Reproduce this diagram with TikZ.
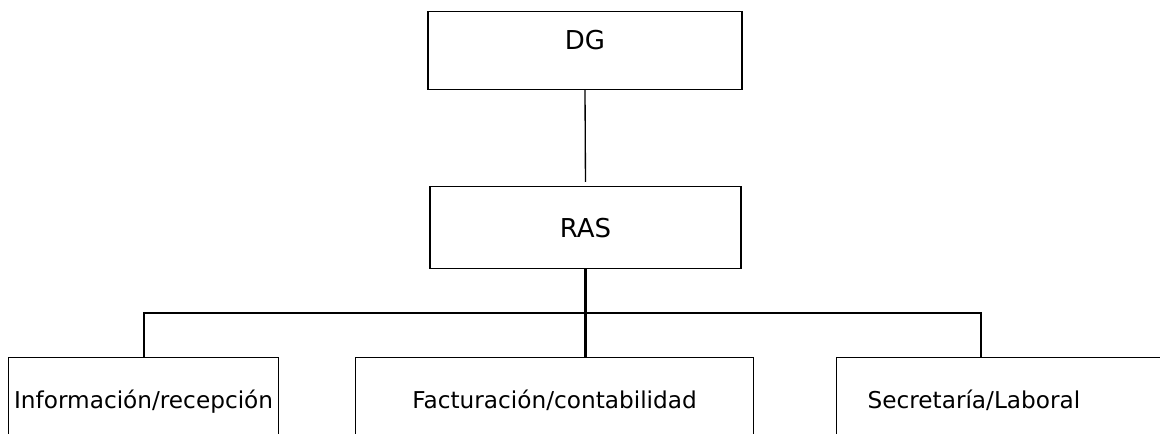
\documentclass[tikz,border=0pt]{standalone}
\usepackage{fontspec}
\setmainfont{DejaVu Sans}
\usetikzlibrary{calc}

\begin{document}
\begin{tikzpicture}[x=0.75pt,y=-0.75pt,line width=0.9pt,
  top node/.style={draw,rectangle,inner sep=0pt,font=\fontsize{19.5}{22}\selectfont},
  unit node/.style={draw,rectangle,inner sep=0pt,anchor=north west,text height=38.25pt,text depth=45pt,font=\fontsize{17.4}{20}\selectfont},
  link/.style={line width=1.5pt}]
  \useasboundingbox (0,0) rectangle (1160,434);
  \clip (0,0) rectangle (1160,434);

  \node[top node,anchor=north,minimum width=235.5pt,text height=28.5pt,text depth=30pt] (dg) at (585,11) {DG};
  \node[top node,anchor=north,minimum width=233.25pt,text height=38.25pt,text depth=23.25pt] (ras) at (585.5,186) {RAS};
  \node[unit node,minimum width=202.5pt] (info) at (8,357) {Información/recepción};
  \node[unit node,minimum width=298.5pt] (fact) at (355,357) {Facturación/contabilidad};
  \node[unit node,text width=300pt,align=left,inner xsep=23.25pt] (secr) at (836,357) {Secretaría/Laboral};
  \coordinate (fork) at (586,313);

  \draw[line width=1pt,shorten >=3pt] (dg.south) -- (ras.north);
  \draw[link,line width=2pt] (ras.south) -- (ras.south |- fact.north);
  \draw[link] (info.north) |- (fork) -| ($(secr.north west)+(145,0)$);
\end{tikzpicture}
\end{document}
